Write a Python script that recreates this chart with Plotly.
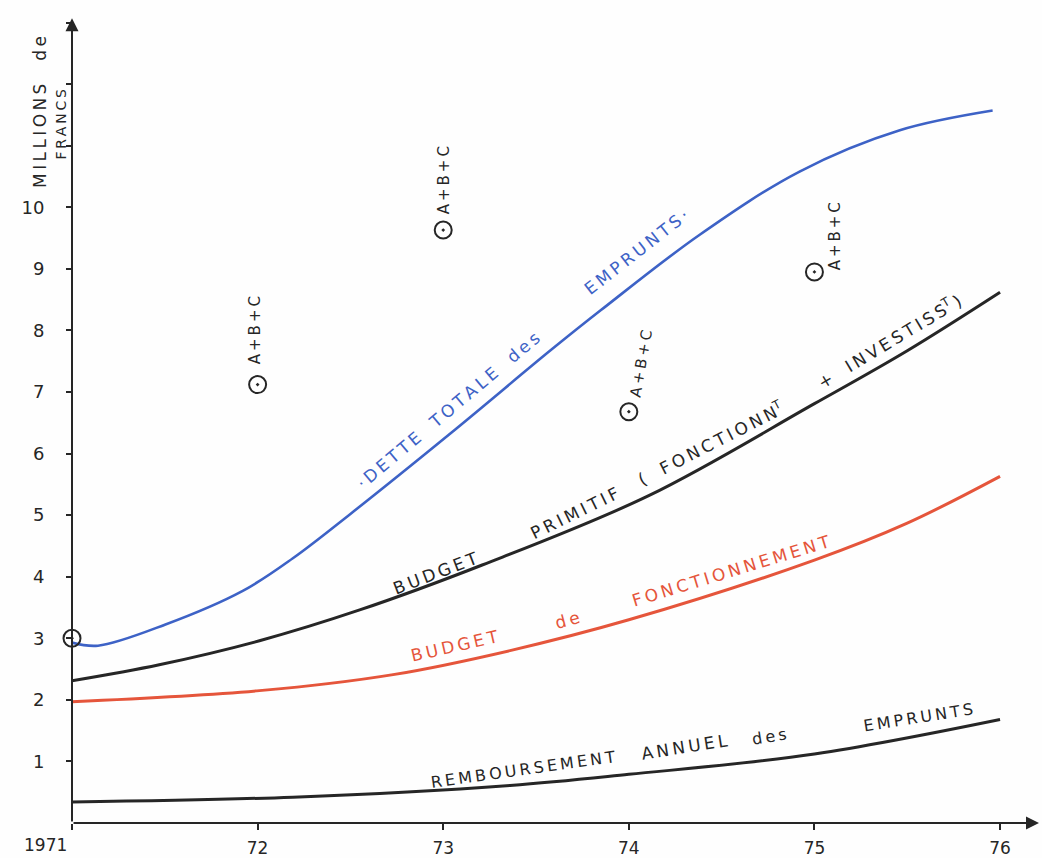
import plotly.graph_objects as go

# ---------------- data ----------------
years_dette = [1971.00, 1971.14, 1971.50, 1971.92, 1972.19, 1972.50, 1973.04, 1973.58, 1973.85, 1974.38, 1974.92, 1975.46, 1975.96]
dette_totale = [2.93, 2.88, 3.22, 3.77, 4.30, 5.02, 6.33, 7.68, 8.33, 9.55, 10.58, 11.25, 11.57]

years_primitif = [1971.00, 1971.47, 1972.01, 1972.55, 1973.21, 1974.11, 1975.00, 1975.50, 1976.00]
budget_primitif = [2.31, 2.57, 2.96, 3.46, 4.19, 5.32, 6.81, 7.67, 8.62]

years_fonct = [1971.00, 1972.01, 1972.73, 1973.36, 1974.00, 1975.00, 1975.50, 1976.00]
budget_fonct = [1.97, 2.15, 2.41, 2.80, 3.30, 4.27, 4.87, 5.63]

years_remb = [1971.00, 1972.19, 1973.36, 1974.00, 1975.00, 1976.00]
remboursement = [0.34, 0.42, 0.61, 0.79, 1.12, 1.68]

abc_years = [1972, 1973, 1974, 1975]
abc_values = [7.12, 9.63, 6.68, 8.95]
abc_label = "A+B+C"

start_year = [1971]
start_value = [3.0]

x_tick_vals = [1971, 1972, 1973, 1974, 1975, 1976]
x_tick_text = ["", "72", "73", "74", "75", "76"]
y_tick_vals = list(range(1, 14))
y_tick_text = ["1", "2", "3", "4", "5", "6", "7", "8", "9", "10", "", "", ""]

BLUE = "#3d62c6"
RED = "#e5553b"
INK = "#262626"
FONT = "DejaVu Sans"


def spaced(s, gap="\u2009", word="\u00a0\u00a0"):
    out = []
    for ch in s:
        out.append(word if ch == " " else ch)
    return gap.join(out)


fig = go.Figure()

fig.add_trace(go.Scatter(x=years_dette, y=dette_totale, mode="lines",
                         line=dict(color=BLUE, width=2.6, shape="spline", smoothing=1.0),
                         hoverinfo="skip", showlegend=False))
fig.add_trace(go.Scatter(x=years_primitif, y=budget_primitif, mode="lines",
                         line=dict(color=INK, width=3, shape="spline", smoothing=1.0),
                         hoverinfo="skip", showlegend=False))
fig.add_trace(go.Scatter(x=years_fonct, y=budget_fonct, mode="lines",
                         line=dict(color=RED, width=3, shape="spline", smoothing=1.0),
                         hoverinfo="skip", showlegend=False))
fig.add_trace(go.Scatter(x=years_remb, y=remboursement, mode="lines",
                         line=dict(color=INK, width=3, shape="spline", smoothing=1.0),
                         hoverinfo="skip", showlegend=False))

fig.add_trace(go.Scatter(x=abc_years + start_year, y=abc_values + start_value, mode="markers",
                         marker=dict(symbol="circle-open-dot", size=17, color=INK,
                                     line=dict(width=2, color=INK)),
                         cliponaxis=False, hoverinfo="skip", showlegend=False))

annotations = []

# axis arrows
annotations.append(dict(x=1971, y=13.07, ax=1971, ay=0, xref="x", yref="y", axref="x", ayref="y",
                        text="", showarrow=True, arrowhead=2, arrowsize=1.3, arrowwidth=2, arrowcolor=INK))
annotations.append(dict(x=1976.21, y=0, ax=1971, ay=0, xref="x", yref="y", axref="x", ayref="y",
                        text="", showarrow=True, arrowhead=2, arrowsize=1.3, arrowwidth=2, arrowcolor=INK))

# A+B+C labels
abc_shift = [(-3, 54, -90), (1, 50, -90), (12, 48, -80), (20, 36, -90)]
for xv, yv, (dx, dy, ang) in zip(abc_years, abc_values, abc_shift):
    annotations.append(dict(x=xv, y=yv, xref="x", yref="y", text=spaced(abc_label),
                            showarrow=False, textangle=ang, xshift=dx, yshift=dy,
                            font=dict(family=FONT, size=15, color=INK)))

# curve labels: (text, x, y, angle, color, size)
curve_labels = [
    ("·" + "\u2009" + spaced("DETTE TOTALE des"), 1973.03, 6.70, -40, BLUE, 17),
    (spaced("EMPRUNTS") + "\u2009·", 1974.04, 9.28, -38, BLUE, 17),
    (spaced("BUDGET"), 1972.96, 4.06, -21, INK, 17),
    (spaced("PRIMITIF"), 1973.71, 5.03, -26, INK, 17),
    (spaced("( FONCTIONN") + "<sup>T</sup>", 1974.44, 6.17, -27, INK, 17),
    (spaced("+ INVESTISS") + "<sup>T</sup>" + "\u2009)", 1975.40, 7.83, -31, INK, 17),
    (spaced("BUDGET"), 1973.06, 2.88, -13, RED, 17),
    (spaced("de"), 1973.67, 3.30, -15, RED, 17),
    (spaced("FONCTIONNEMENT"), 1974.55, 4.09, -17, RED, 17),
    (spaced("REMBOURSEMENT"), 1973.43, 0.87, -8, INK, 16),
    (spaced("ANNUEL"), 1974.30, 1.24, -9, INK, 17),
    (spaced("des"), 1974.76, 1.40, -9, INK, 16),
    (spaced("EMPRUNTS"), 1975.56, 1.72, -9, INK, 16),
]
for txt, xv, yv, ang, col, sz in curve_labels:
    annotations.append(dict(x=xv, y=yv, xref="x", yref="y", text=txt, showarrow=False,
                            textangle=ang, font=dict(family=FONT, size=sz, color=col)))

# axis title (rotated, handwritten style) and first x label, outside the plot area
annotations.append(dict(x=-0.033, y=0.864, xref="paper", yref="paper",
                        text=spaced("MILLIONS de", word="\u00a0\u00a0\u00a0"),
                        xanchor="center", yanchor="middle",
                        showarrow=False, textangle=-90, font=dict(family=FONT, size=17, color=INK)))
annotations.append(dict(x=-0.011, y=0.849, xref="paper", yref="paper", text=spaced("FRANCS"),
                        xanchor="center", yanchor="middle",
                        showarrow=False, textangle=-90, font=dict(family=FONT, size=14, color=INK)))
annotations.append(dict(x=-0.027, y=-0.027, xref="paper", yref="paper", text="1971", showarrow=False,
                        xanchor="center", yanchor="middle",
                        font=dict(family=FONT, size=17, color=INK)))

fig.update_layout(
    width=1042, height=858,
    margin=dict(l=72, r=0, t=0, b=32),
    paper_bgcolor="#fefefe", plot_bgcolor="#fefefe",
    showlegend=False,
    annotations=annotations,
    xaxis=dict(range=[1971, 1976.226], showgrid=False, zeroline=False, showline=False,
               tickmode="array", tickvals=x_tick_vals, ticktext=x_tick_text,
               ticks="outside", ticklen=6, tickwidth=2, tickcolor=INK,
               tickfont=dict(family=FONT, size=17, color=INK), ticklabelstandoff=4),
    yaxis=dict(range=[0, 13.366], showgrid=False, zeroline=False, showline=False,
               tickmode="array", tickvals=y_tick_vals, ticktext=y_tick_text,
               ticks="outside", ticklen=5, tickwidth=2, tickcolor=INK,
               tickfont=dict(family=FONT, size=18, color=INK), ticklabelstandoff=18),
)

fig.write_html("out.html", config={"displayModeBar": False},
               post_script="document.body.style.margin='0';document.body.style.padding='0';"
                           "document.body.style.overflow='hidden';")
